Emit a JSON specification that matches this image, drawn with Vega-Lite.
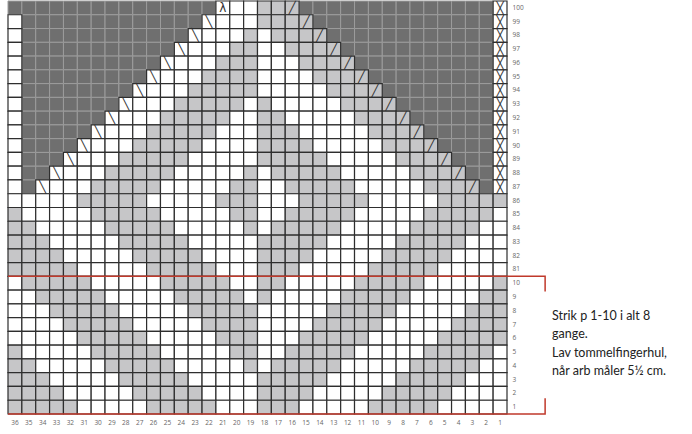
{
"$schema": "https://vega.github.io/schema/vega-lite/v6.json",
"width": 499, "height": 413,
"autosize": "none",
"padding": {"left": 8, "top": 1, "right": 185, "bottom": 20},
"background": "white",
"config": {"view": {"stroke": null}},
"datasets": {
"cells": [
{"c":36,"r":100,"v":"d"},{"c":35,"r":100,"v":"d"},{"c":34,"r":100,"v":"d"},{"c":33,"r":100,"v":"d"},{"c":32,"r":100,"v":"d"},{"c":31,"r":100,"v":"d"},{"c":30,"r":100,"v":"d"},{"c":29,"r":100,"v":"d"},{"c":28,"r":100,"v":"d"},{"c":27,"r":100,"v":"d"},{"c":26,"r":100,"v":"d"},{"c":25,"r":100,"v":"d"},{"c":24,"r":100,"v":"d"},{"c":23,"r":100,"v":"d"},{"c":22,"r":100,"v":"d"},{"c":21,"r":100,"v":"w"},{"c":20,"r":100,"v":"w"},{"c":19,"r":100,"v":"w"},{"c":18,"r":100,"v":"g"},{"c":17,"r":100,"v":"g"},{"c":16,"r":100,"v":"g"},{"c":15,"r":100,"v":"d"},{"c":14,"r":100,"v":"d"},{"c":13,"r":100,"v":"d"},{"c":12,"r":100,"v":"d"},{"c":11,"r":100,"v":"d"},{"c":10,"r":100,"v":"d"},{"c":9,"r":100,"v":"d"},{"c":8,"r":100,"v":"d"},{"c":7,"r":100,"v":"d"},{"c":6,"r":100,"v":"d"},{"c":5,"r":100,"v":"d"},{"c":4,"r":100,"v":"d"},{"c":3,"r":100,"v":"d"},{"c":2,"r":100,"v":"d"},{"c":1,"r":100,"v":"x"},
{"c":36,"r":99,"v":"w"},{"c":35,"r":99,"v":"d"},{"c":34,"r":99,"v":"d"},{"c":33,"r":99,"v":"d"},{"c":32,"r":99,"v":"d"},{"c":31,"r":99,"v":"d"},{"c":30,"r":99,"v":"d"},{"c":29,"r":99,"v":"d"},{"c":28,"r":99,"v":"d"},{"c":27,"r":99,"v":"d"},{"c":26,"r":99,"v":"d"},{"c":25,"r":99,"v":"d"},{"c":24,"r":99,"v":"d"},{"c":23,"r":99,"v":"d"},{"c":22,"r":99,"v":"w"},{"c":21,"r":99,"v":"w"},{"c":20,"r":99,"v":"w"},{"c":19,"r":99,"v":"w"},{"c":18,"r":99,"v":"g"},{"c":17,"r":99,"v":"g"},{"c":16,"r":99,"v":"g"},{"c":15,"r":99,"v":"g"},{"c":14,"r":99,"v":"d"},{"c":13,"r":99,"v":"d"},{"c":12,"r":99,"v":"d"},{"c":11,"r":99,"v":"d"},{"c":10,"r":99,"v":"d"},{"c":9,"r":99,"v":"d"},{"c":8,"r":99,"v":"d"},{"c":7,"r":99,"v":"d"},{"c":6,"r":99,"v":"d"},{"c":5,"r":99,"v":"d"},{"c":4,"r":99,"v":"d"},{"c":3,"r":99,"v":"d"},{"c":2,"r":99,"v":"d"},{"c":1,"r":99,"v":"x"},
{"c":36,"r":98,"v":"w"},{"c":35,"r":98,"v":"d"},{"c":34,"r":98,"v":"d"},{"c":33,"r":98,"v":"d"},{"c":32,"r":98,"v":"d"},{"c":31,"r":98,"v":"d"},{"c":30,"r":98,"v":"d"},{"c":29,"r":98,"v":"d"},{"c":28,"r":98,"v":"d"},{"c":27,"r":98,"v":"d"},{"c":26,"r":98,"v":"d"},{"c":25,"r":98,"v":"d"},{"c":24,"r":98,"v":"d"},{"c":23,"r":98,"v":"w"},{"c":22,"r":98,"v":"w"},{"c":21,"r":98,"v":"w"},{"c":20,"r":98,"v":"w"},{"c":19,"r":98,"v":"g"},{"c":18,"r":98,"v":"w"},{"c":17,"r":98,"v":"g"},{"c":16,"r":98,"v":"g"},{"c":15,"r":98,"v":"g"},{"c":14,"r":98,"v":"g"},{"c":13,"r":98,"v":"d"},{"c":12,"r":98,"v":"d"},{"c":11,"r":98,"v":"d"},{"c":10,"r":98,"v":"d"},{"c":9,"r":98,"v":"d"},{"c":8,"r":98,"v":"d"},{"c":7,"r":98,"v":"d"},{"c":6,"r":98,"v":"d"},{"c":5,"r":98,"v":"d"},{"c":4,"r":98,"v":"d"},{"c":3,"r":98,"v":"d"},{"c":2,"r":98,"v":"d"},{"c":1,"r":98,"v":"x"},
{"c":36,"r":97,"v":"w"},{"c":35,"r":97,"v":"d"},{"c":34,"r":97,"v":"d"},{"c":33,"r":97,"v":"d"},{"c":32,"r":97,"v":"d"},{"c":31,"r":97,"v":"d"},{"c":30,"r":97,"v":"d"},{"c":29,"r":97,"v":"d"},{"c":28,"r":97,"v":"d"},{"c":27,"r":97,"v":"d"},{"c":26,"r":97,"v":"d"},{"c":25,"r":97,"v":"d"},{"c":24,"r":97,"v":"w"},{"c":23,"r":97,"v":"w"},{"c":22,"r":97,"v":"w"},{"c":21,"r":97,"v":"w"},{"c":20,"r":97,"v":"g"},{"c":19,"r":97,"v":"g"},{"c":18,"r":97,"v":"w"},{"c":17,"r":97,"v":"w"},{"c":16,"r":97,"v":"g"},{"c":15,"r":97,"v":"g"},{"c":14,"r":97,"v":"g"},{"c":13,"r":97,"v":"g"},{"c":12,"r":97,"v":"d"},{"c":11,"r":97,"v":"d"},{"c":10,"r":97,"v":"d"},{"c":9,"r":97,"v":"d"},{"c":8,"r":97,"v":"d"},{"c":7,"r":97,"v":"d"},{"c":6,"r":97,"v":"d"},{"c":5,"r":97,"v":"d"},{"c":4,"r":97,"v":"d"},{"c":3,"r":97,"v":"d"},{"c":2,"r":97,"v":"d"},{"c":1,"r":97,"v":"x"},
{"c":36,"r":96,"v":"w"},{"c":35,"r":96,"v":"d"},{"c":34,"r":96,"v":"d"},{"c":33,"r":96,"v":"d"},{"c":32,"r":96,"v":"d"},{"c":31,"r":96,"v":"d"},{"c":30,"r":96,"v":"d"},{"c":29,"r":96,"v":"d"},{"c":28,"r":96,"v":"d"},{"c":27,"r":96,"v":"d"},{"c":26,"r":96,"v":"d"},{"c":25,"r":96,"v":"w"},{"c":24,"r":96,"v":"w"},{"c":23,"r":96,"v":"w"},{"c":22,"r":96,"v":"w"},{"c":21,"r":96,"v":"g"},{"c":20,"r":96,"v":"g"},{"c":19,"r":96,"v":"g"},{"c":18,"r":96,"v":"w"},{"c":17,"r":96,"v":"w"},{"c":16,"r":96,"v":"w"},{"c":15,"r":96,"v":"g"},{"c":14,"r":96,"v":"g"},{"c":13,"r":96,"v":"g"},{"c":12,"r":96,"v":"g"},{"c":11,"r":96,"v":"d"},{"c":10,"r":96,"v":"d"},{"c":9,"r":96,"v":"d"},{"c":8,"r":96,"v":"d"},{"c":7,"r":96,"v":"d"},{"c":6,"r":96,"v":"d"},{"c":5,"r":96,"v":"d"},{"c":4,"r":96,"v":"d"},{"c":3,"r":96,"v":"d"},{"c":2,"r":96,"v":"d"},{"c":1,"r":96,"v":"x"},
{"c":36,"r":95,"v":"w"},{"c":35,"r":95,"v":"d"},{"c":34,"r":95,"v":"d"},{"c":33,"r":95,"v":"d"},{"c":32,"r":95,"v":"d"},{"c":31,"r":95,"v":"d"},{"c":30,"r":95,"v":"d"},{"c":29,"r":95,"v":"d"},{"c":28,"r":95,"v":"d"},{"c":27,"r":95,"v":"d"},{"c":26,"r":95,"v":"w"},{"c":25,"r":95,"v":"w"},{"c":24,"r":95,"v":"w"},{"c":23,"r":95,"v":"w"},{"c":22,"r":95,"v":"g"},{"c":21,"r":95,"v":"g"},{"c":20,"r":95,"v":"g"},{"c":19,"r":95,"v":"g"},{"c":18,"r":95,"v":"w"},{"c":17,"r":95,"v":"w"},{"c":16,"r":95,"v":"w"},{"c":15,"r":95,"v":"w"},{"c":14,"r":95,"v":"g"},{"c":13,"r":95,"v":"g"},{"c":12,"r":95,"v":"g"},{"c":11,"r":95,"v":"g"},{"c":10,"r":95,"v":"d"},{"c":9,"r":95,"v":"d"},{"c":8,"r":95,"v":"d"},{"c":7,"r":95,"v":"d"},{"c":6,"r":95,"v":"d"},{"c":5,"r":95,"v":"d"},{"c":4,"r":95,"v":"d"},{"c":3,"r":95,"v":"d"},{"c":2,"r":95,"v":"d"},{"c":1,"r":95,"v":"x"},
{"c":36,"r":94,"v":"w"},{"c":35,"r":94,"v":"d"},{"c":34,"r":94,"v":"d"},{"c":33,"r":94,"v":"d"},{"c":32,"r":94,"v":"d"},{"c":31,"r":94,"v":"d"},{"c":30,"r":94,"v":"d"},{"c":29,"r":94,"v":"d"},{"c":28,"r":94,"v":"d"},{"c":27,"r":94,"v":"w"},{"c":26,"r":94,"v":"w"},{"c":25,"r":94,"v":"w"},{"c":24,"r":94,"v":"w"},{"c":23,"r":94,"v":"g"},{"c":22,"r":94,"v":"g"},{"c":21,"r":94,"v":"g"},{"c":20,"r":94,"v":"g"},{"c":19,"r":94,"v":"g"},{"c":18,"r":94,"v":"w"},{"c":17,"r":94,"v":"w"},{"c":16,"r":94,"v":"w"},{"c":15,"r":94,"v":"w"},{"c":14,"r":94,"v":"w"},{"c":13,"r":94,"v":"g"},{"c":12,"r":94,"v":"g"},{"c":11,"r":94,"v":"g"},{"c":10,"r":94,"v":"g"},{"c":9,"r":94,"v":"d"},{"c":8,"r":94,"v":"d"},{"c":7,"r":94,"v":"d"},{"c":6,"r":94,"v":"d"},{"c":5,"r":94,"v":"d"},{"c":4,"r":94,"v":"d"},{"c":3,"r":94,"v":"d"},{"c":2,"r":94,"v":"d"},{"c":1,"r":94,"v":"x"},
{"c":36,"r":93,"v":"w"},{"c":35,"r":93,"v":"d"},{"c":34,"r":93,"v":"d"},{"c":33,"r":93,"v":"d"},{"c":32,"r":93,"v":"d"},{"c":31,"r":93,"v":"d"},{"c":30,"r":93,"v":"d"},{"c":29,"r":93,"v":"d"},{"c":28,"r":93,"v":"w"},{"c":27,"r":93,"v":"w"},{"c":26,"r":93,"v":"w"},{"c":25,"r":93,"v":"w"},{"c":24,"r":93,"v":"g"},{"c":23,"r":93,"v":"g"},{"c":22,"r":93,"v":"g"},{"c":21,"r":93,"v":"g"},{"c":20,"r":93,"v":"g"},{"c":19,"r":93,"v":"w"},{"c":18,"r":93,"v":"g"},{"c":17,"r":93,"v":"w"},{"c":16,"r":93,"v":"w"},{"c":15,"r":93,"v":"w"},{"c":14,"r":93,"v":"w"},{"c":13,"r":93,"v":"w"},{"c":12,"r":93,"v":"g"},{"c":11,"r":93,"v":"g"},{"c":10,"r":93,"v":"g"},{"c":9,"r":93,"v":"g"},{"c":8,"r":93,"v":"d"},{"c":7,"r":93,"v":"d"},{"c":6,"r":93,"v":"d"},{"c":5,"r":93,"v":"d"},{"c":4,"r":93,"v":"d"},{"c":3,"r":93,"v":"d"},{"c":2,"r":93,"v":"d"},{"c":1,"r":93,"v":"x"},
{"c":36,"r":92,"v":"w"},{"c":35,"r":92,"v":"d"},{"c":34,"r":92,"v":"d"},{"c":33,"r":92,"v":"d"},{"c":32,"r":92,"v":"d"},{"c":31,"r":92,"v":"d"},{"c":30,"r":92,"v":"d"},{"c":29,"r":92,"v":"w"},{"c":28,"r":92,"v":"w"},{"c":27,"r":92,"v":"w"},{"c":26,"r":92,"v":"w"},{"c":25,"r":92,"v":"g"},{"c":24,"r":92,"v":"g"},{"c":23,"r":92,"v":"g"},{"c":22,"r":92,"v":"g"},{"c":21,"r":92,"v":"g"},{"c":20,"r":92,"v":"w"},{"c":19,"r":92,"v":"w"},{"c":18,"r":92,"v":"g"},{"c":17,"r":92,"v":"g"},{"c":16,"r":92,"v":"w"},{"c":15,"r":92,"v":"w"},{"c":14,"r":92,"v":"w"},{"c":13,"r":92,"v":"w"},{"c":12,"r":92,"v":"w"},{"c":11,"r":92,"v":"g"},{"c":10,"r":92,"v":"g"},{"c":9,"r":92,"v":"g"},{"c":8,"r":92,"v":"g"},{"c":7,"r":92,"v":"d"},{"c":6,"r":92,"v":"d"},{"c":5,"r":92,"v":"d"},{"c":4,"r":92,"v":"d"},{"c":3,"r":92,"v":"d"},{"c":2,"r":92,"v":"d"},{"c":1,"r":92,"v":"x"},
{"c":36,"r":91,"v":"w"},{"c":35,"r":91,"v":"d"},{"c":34,"r":91,"v":"d"},{"c":33,"r":91,"v":"d"},{"c":32,"r":91,"v":"d"},{"c":31,"r":91,"v":"d"},{"c":30,"r":91,"v":"w"},{"c":29,"r":91,"v":"w"},{"c":28,"r":91,"v":"w"},{"c":27,"r":91,"v":"w"},{"c":26,"r":91,"v":"g"},{"c":25,"r":91,"v":"g"},{"c":24,"r":91,"v":"g"},{"c":23,"r":91,"v":"g"},{"c":22,"r":91,"v":"g"},{"c":21,"r":91,"v":"w"},{"c":20,"r":91,"v":"w"},{"c":19,"r":91,"v":"w"},{"c":18,"r":91,"v":"g"},{"c":17,"r":91,"v":"g"},{"c":16,"r":91,"v":"g"},{"c":15,"r":91,"v":"w"},{"c":14,"r":91,"v":"w"},{"c":13,"r":91,"v":"w"},{"c":12,"r":91,"v":"w"},{"c":11,"r":91,"v":"w"},{"c":10,"r":91,"v":"g"},{"c":9,"r":91,"v":"g"},{"c":8,"r":91,"v":"g"},{"c":7,"r":91,"v":"g"},{"c":6,"r":91,"v":"d"},{"c":5,"r":91,"v":"d"},{"c":4,"r":91,"v":"d"},{"c":3,"r":91,"v":"d"},{"c":2,"r":91,"v":"d"},{"c":1,"r":91,"v":"x"},
{"c":36,"r":90,"v":"w"},{"c":35,"r":90,"v":"d"},{"c":34,"r":90,"v":"d"},{"c":33,"r":90,"v":"d"},{"c":32,"r":90,"v":"d"},{"c":31,"r":90,"v":"w"},{"c":30,"r":90,"v":"w"},{"c":29,"r":90,"v":"w"},{"c":28,"r":90,"v":"w"},{"c":27,"r":90,"v":"g"},{"c":26,"r":90,"v":"g"},{"c":25,"r":90,"v":"g"},{"c":24,"r":90,"v":"g"},{"c":23,"r":90,"v":"g"},{"c":22,"r":90,"v":"w"},{"c":21,"r":90,"v":"w"},{"c":20,"r":90,"v":"w"},{"c":19,"r":90,"v":"w"},{"c":18,"r":90,"v":"g"},{"c":17,"r":90,"v":"g"},{"c":16,"r":90,"v":"g"},{"c":15,"r":90,"v":"g"},{"c":14,"r":90,"v":"w"},{"c":13,"r":90,"v":"w"},{"c":12,"r":90,"v":"w"},{"c":11,"r":90,"v":"w"},{"c":10,"r":90,"v":"w"},{"c":9,"r":90,"v":"g"},{"c":8,"r":90,"v":"g"},{"c":7,"r":90,"v":"g"},{"c":6,"r":90,"v":"g"},{"c":5,"r":90,"v":"d"},{"c":4,"r":90,"v":"d"},{"c":3,"r":90,"v":"d"},{"c":2,"r":90,"v":"d"},{"c":1,"r":90,"v":"x"},
{"c":36,"r":89,"v":"w"},{"c":35,"r":89,"v":"d"},{"c":34,"r":89,"v":"d"},{"c":33,"r":89,"v":"d"},{"c":32,"r":89,"v":"w"},{"c":31,"r":89,"v":"w"},{"c":30,"r":89,"v":"w"},{"c":29,"r":89,"v":"w"},{"c":28,"r":89,"v":"g"},{"c":27,"r":89,"v":"g"},{"c":26,"r":89,"v":"g"},{"c":25,"r":89,"v":"g"},{"c":24,"r":89,"v":"g"},{"c":23,"r":89,"v":"w"},{"c":22,"r":89,"v":"w"},{"c":21,"r":89,"v":"w"},{"c":20,"r":89,"v":"w"},{"c":19,"r":89,"v":"w"},{"c":18,"r":89,"v":"g"},{"c":17,"r":89,"v":"g"},{"c":16,"r":89,"v":"g"},{"c":15,"r":89,"v":"g"},{"c":14,"r":89,"v":"g"},{"c":13,"r":89,"v":"w"},{"c":12,"r":89,"v":"w"},{"c":11,"r":89,"v":"w"},{"c":10,"r":89,"v":"w"},{"c":9,"r":89,"v":"w"},{"c":8,"r":89,"v":"g"},{"c":7,"r":89,"v":"g"},{"c":6,"r":89,"v":"g"},{"c":5,"r":89,"v":"g"},{"c":4,"r":89,"v":"d"},{"c":3,"r":89,"v":"d"},{"c":2,"r":89,"v":"d"},{"c":1,"r":89,"v":"x"},
{"c":36,"r":88,"v":"w"},{"c":35,"r":88,"v":"d"},{"c":34,"r":88,"v":"d"},{"c":33,"r":88,"v":"w"},{"c":32,"r":88,"v":"w"},{"c":31,"r":88,"v":"w"},{"c":30,"r":88,"v":"w"},{"c":29,"r":88,"v":"g"},{"c":28,"r":88,"v":"g"},{"c":27,"r":88,"v":"g"},{"c":26,"r":88,"v":"g"},{"c":25,"r":88,"v":"g"},{"c":24,"r":88,"v":"w"},{"c":23,"r":88,"v":"w"},{"c":22,"r":88,"v":"w"},{"c":21,"r":88,"v":"w"},{"c":20,"r":88,"v":"w"},{"c":19,"r":88,"v":"g"},{"c":18,"r":88,"v":"w"},{"c":17,"r":88,"v":"g"},{"c":16,"r":88,"v":"g"},{"c":15,"r":88,"v":"g"},{"c":14,"r":88,"v":"g"},{"c":13,"r":88,"v":"g"},{"c":12,"r":88,"v":"w"},{"c":11,"r":88,"v":"w"},{"c":10,"r":88,"v":"w"},{"c":9,"r":88,"v":"w"},{"c":8,"r":88,"v":"w"},{"c":7,"r":88,"v":"g"},{"c":6,"r":88,"v":"g"},{"c":5,"r":88,"v":"g"},{"c":4,"r":88,"v":"g"},{"c":3,"r":88,"v":"d"},{"c":2,"r":88,"v":"d"},{"c":1,"r":88,"v":"x"},
{"c":36,"r":87,"v":"w"},{"c":35,"r":87,"v":"d"},{"c":34,"r":87,"v":"w"},{"c":33,"r":87,"v":"w"},{"c":32,"r":87,"v":"w"},{"c":31,"r":87,"v":"w"},{"c":30,"r":87,"v":"g"},{"c":29,"r":87,"v":"g"},{"c":28,"r":87,"v":"g"},{"c":27,"r":87,"v":"g"},{"c":26,"r":87,"v":"g"},{"c":25,"r":87,"v":"w"},{"c":24,"r":87,"v":"w"},{"c":23,"r":87,"v":"w"},{"c":22,"r":87,"v":"w"},{"c":21,"r":87,"v":"w"},{"c":20,"r":87,"v":"g"},{"c":19,"r":87,"v":"g"},{"c":18,"r":87,"v":"w"},{"c":17,"r":87,"v":"w"},{"c":16,"r":87,"v":"g"},{"c":15,"r":87,"v":"g"},{"c":14,"r":87,"v":"g"},{"c":13,"r":87,"v":"g"},{"c":12,"r":87,"v":"g"},{"c":11,"r":87,"v":"w"},{"c":10,"r":87,"v":"w"},{"c":9,"r":87,"v":"w"},{"c":8,"r":87,"v":"w"},{"c":7,"r":87,"v":"w"},{"c":6,"r":87,"v":"g"},{"c":5,"r":87,"v":"g"},{"c":4,"r":87,"v":"g"},{"c":3,"r":87,"v":"g"},{"c":2,"r":87,"v":"d"},{"c":1,"r":87,"v":"x"},
{"c":36,"r":86,"v":"w"},{"c":35,"r":86,"v":"w"},{"c":34,"r":86,"v":"w"},{"c":33,"r":86,"v":"w"},{"c":32,"r":86,"v":"w"},{"c":31,"r":86,"v":"g"},{"c":30,"r":86,"v":"g"},{"c":29,"r":86,"v":"g"},{"c":28,"r":86,"v":"g"},{"c":27,"r":86,"v":"g"},{"c":26,"r":86,"v":"w"},{"c":25,"r":86,"v":"w"},{"c":24,"r":86,"v":"w"},{"c":23,"r":86,"v":"w"},{"c":22,"r":86,"v":"w"},{"c":21,"r":86,"v":"g"},{"c":20,"r":86,"v":"g"},{"c":19,"r":86,"v":"g"},{"c":18,"r":86,"v":"w"},{"c":17,"r":86,"v":"w"},{"c":16,"r":86,"v":"w"},{"c":15,"r":86,"v":"g"},{"c":14,"r":86,"v":"g"},{"c":13,"r":86,"v":"g"},{"c":12,"r":86,"v":"g"},{"c":11,"r":86,"v":"g"},{"c":10,"r":86,"v":"w"},{"c":9,"r":86,"v":"w"},{"c":8,"r":86,"v":"w"},{"c":7,"r":86,"v":"w"},{"c":6,"r":86,"v":"w"},{"c":5,"r":86,"v":"g"},{"c":4,"r":86,"v":"g"},{"c":3,"r":86,"v":"g"},{"c":2,"r":86,"v":"g"},{"c":1,"r":86,"v":"g"},
{"c":36,"r":85,"v":"g"},{"c":35,"r":85,"v":"w"},{"c":34,"r":85,"v":"w"},{"c":33,"r":85,"v":"w"},{"c":32,"r":85,"v":"w"},{"c":31,"r":85,"v":"w"},{"c":30,"r":85,"v":"g"},{"c":29,"r":85,"v":"g"},{"c":28,"r":85,"v":"g"},{"c":27,"r":85,"v":"g"},{"c":26,"r":85,"v":"g"},{"c":25,"r":85,"v":"w"},{"c":24,"r":85,"v":"w"},{"c":23,"r":85,"v":"w"},{"c":22,"r":85,"v":"w"},{"c":21,"r":85,"v":"w"},{"c":20,"r":85,"v":"g"},{"c":19,"r":85,"v":"g"},{"c":18,"r":85,"v":"w"},{"c":17,"r":85,"v":"w"},{"c":16,"r":85,"v":"g"},{"c":15,"r":85,"v":"g"},{"c":14,"r":85,"v":"g"},{"c":13,"r":85,"v":"g"},{"c":12,"r":85,"v":"g"},{"c":11,"r":85,"v":"w"},{"c":10,"r":85,"v":"w"},{"c":9,"r":85,"v":"w"},{"c":8,"r":85,"v":"w"},{"c":7,"r":85,"v":"w"},{"c":6,"r":85,"v":"g"},{"c":5,"r":85,"v":"g"},{"c":4,"r":85,"v":"g"},{"c":3,"r":85,"v":"g"},{"c":2,"r":85,"v":"g"},{"c":1,"r":85,"v":"w"},
{"c":36,"r":84,"v":"g"},{"c":35,"r":84,"v":"g"},{"c":34,"r":84,"v":"w"},{"c":33,"r":84,"v":"w"},{"c":32,"r":84,"v":"w"},{"c":31,"r":84,"v":"w"},{"c":30,"r":84,"v":"w"},{"c":29,"r":84,"v":"g"},{"c":28,"r":84,"v":"g"},{"c":27,"r":84,"v":"g"},{"c":26,"r":84,"v":"g"},{"c":25,"r":84,"v":"g"},{"c":24,"r":84,"v":"w"},{"c":23,"r":84,"v":"w"},{"c":22,"r":84,"v":"w"},{"c":21,"r":84,"v":"w"},{"c":20,"r":84,"v":"w"},{"c":19,"r":84,"v":"g"},{"c":18,"r":84,"v":"w"},{"c":17,"r":84,"v":"g"},{"c":16,"r":84,"v":"g"},{"c":15,"r":84,"v":"g"},{"c":14,"r":84,"v":"g"},{"c":13,"r":84,"v":"g"},{"c":12,"r":84,"v":"w"},{"c":11,"r":84,"v":"w"},{"c":10,"r":84,"v":"w"},{"c":9,"r":84,"v":"w"},{"c":8,"r":84,"v":"w"},{"c":7,"r":84,"v":"g"},{"c":6,"r":84,"v":"g"},{"c":5,"r":84,"v":"g"},{"c":4,"r":84,"v":"g"},{"c":3,"r":84,"v":"g"},{"c":2,"r":84,"v":"w"},{"c":1,"r":84,"v":"w"},
{"c":36,"r":83,"v":"g"},{"c":35,"r":83,"v":"g"},{"c":34,"r":83,"v":"g"},{"c":33,"r":83,"v":"w"},{"c":32,"r":83,"v":"w"},{"c":31,"r":83,"v":"w"},{"c":30,"r":83,"v":"w"},{"c":29,"r":83,"v":"w"},{"c":28,"r":83,"v":"g"},{"c":27,"r":83,"v":"g"},{"c":26,"r":83,"v":"g"},{"c":25,"r":83,"v":"g"},{"c":24,"r":83,"v":"g"},{"c":23,"r":83,"v":"w"},{"c":22,"r":83,"v":"w"},{"c":21,"r":83,"v":"w"},{"c":20,"r":83,"v":"w"},{"c":19,"r":83,"v":"w"},{"c":18,"r":83,"v":"g"},{"c":17,"r":83,"v":"g"},{"c":16,"r":83,"v":"g"},{"c":15,"r":83,"v":"g"},{"c":14,"r":83,"v":"g"},{"c":13,"r":83,"v":"w"},{"c":12,"r":83,"v":"w"},{"c":11,"r":83,"v":"w"},{"c":10,"r":83,"v":"w"},{"c":9,"r":83,"v":"w"},{"c":8,"r":83,"v":"g"},{"c":7,"r":83,"v":"g"},{"c":6,"r":83,"v":"g"},{"c":5,"r":83,"v":"g"},{"c":4,"r":83,"v":"g"},{"c":3,"r":83,"v":"w"},{"c":2,"r":83,"v":"w"},{"c":1,"r":83,"v":"w"},
{"c":36,"r":82,"v":"g"},{"c":35,"r":82,"v":"g"},{"c":34,"r":82,"v":"g"},{"c":33,"r":82,"v":"g"},{"c":32,"r":82,"v":"w"},{"c":31,"r":82,"v":"w"},{"c":30,"r":82,"v":"w"},{"c":29,"r":82,"v":"w"},{"c":28,"r":82,"v":"w"},{"c":27,"r":82,"v":"g"},{"c":26,"r":82,"v":"g"},{"c":25,"r":82,"v":"g"},{"c":24,"r":82,"v":"g"},{"c":23,"r":82,"v":"g"},{"c":22,"r":82,"v":"w"},{"c":21,"r":82,"v":"w"},{"c":20,"r":82,"v":"w"},{"c":19,"r":82,"v":"w"},{"c":18,"r":82,"v":"g"},{"c":17,"r":82,"v":"g"},{"c":16,"r":82,"v":"g"},{"c":15,"r":82,"v":"g"},{"c":14,"r":82,"v":"w"},{"c":13,"r":82,"v":"w"},{"c":12,"r":82,"v":"w"},{"c":11,"r":82,"v":"w"},{"c":10,"r":82,"v":"w"},{"c":9,"r":82,"v":"g"},{"c":8,"r":82,"v":"g"},{"c":7,"r":82,"v":"g"},{"c":6,"r":82,"v":"g"},{"c":5,"r":82,"v":"g"},{"c":4,"r":82,"v":"w"},{"c":3,"r":82,"v":"w"},{"c":2,"r":82,"v":"w"},{"c":1,"r":82,"v":"w"},
{"c":36,"r":81,"v":"g"},{"c":35,"r":81,"v":"g"},{"c":34,"r":81,"v":"g"},{"c":33,"r":81,"v":"g"},{"c":32,"r":81,"v":"g"},{"c":31,"r":81,"v":"w"},{"c":30,"r":81,"v":"w"},{"c":29,"r":81,"v":"w"},{"c":28,"r":81,"v":"w"},{"c":27,"r":81,"v":"w"},{"c":26,"r":81,"v":"g"},{"c":25,"r":81,"v":"g"},{"c":24,"r":81,"v":"g"},{"c":23,"r":81,"v":"g"},{"c":22,"r":81,"v":"g"},{"c":21,"r":81,"v":"w"},{"c":20,"r":81,"v":"w"},{"c":19,"r":81,"v":"w"},{"c":18,"r":81,"v":"g"},{"c":17,"r":81,"v":"g"},{"c":16,"r":81,"v":"g"},{"c":15,"r":81,"v":"w"},{"c":14,"r":81,"v":"w"},{"c":13,"r":81,"v":"w"},{"c":12,"r":81,"v":"w"},{"c":11,"r":81,"v":"w"},{"c":10,"r":81,"v":"g"},{"c":9,"r":81,"v":"g"},{"c":8,"r":81,"v":"g"},{"c":7,"r":81,"v":"g"},{"c":6,"r":81,"v":"g"},{"c":5,"r":81,"v":"w"},{"c":4,"r":81,"v":"w"},{"c":3,"r":81,"v":"w"},{"c":2,"r":81,"v":"w"},{"c":1,"r":81,"v":"w"},
{"c":36,"r":10,"v":"w"},{"c":35,"r":10,"v":"g"},{"c":34,"r":10,"v":"g"},{"c":33,"r":10,"v":"g"},{"c":32,"r":10,"v":"g"},{"c":31,"r":10,"v":"g"},{"c":30,"r":10,"v":"w"},{"c":29,"r":10,"v":"w"},{"c":28,"r":10,"v":"w"},{"c":27,"r":10,"v":"w"},{"c":26,"r":10,"v":"w"},{"c":25,"r":10,"v":"g"},{"c":24,"r":10,"v":"g"},{"c":23,"r":10,"v":"g"},{"c":22,"r":10,"v":"g"},{"c":21,"r":10,"v":"g"},{"c":20,"r":10,"v":"w"},{"c":19,"r":10,"v":"w"},{"c":18,"r":10,"v":"g"},{"c":17,"r":10,"v":"g"},{"c":16,"r":10,"v":"w"},{"c":15,"r":10,"v":"w"},{"c":14,"r":10,"v":"w"},{"c":13,"r":10,"v":"w"},{"c":12,"r":10,"v":"w"},{"c":11,"r":10,"v":"g"},{"c":10,"r":10,"v":"g"},{"c":9,"r":10,"v":"g"},{"c":8,"r":10,"v":"g"},{"c":7,"r":10,"v":"g"},{"c":6,"r":10,"v":"w"},{"c":5,"r":10,"v":"w"},{"c":4,"r":10,"v":"w"},{"c":3,"r":10,"v":"w"},{"c":2,"r":10,"v":"w"},{"c":1,"r":10,"v":"g"},
{"c":36,"r":9,"v":"w"},{"c":35,"r":9,"v":"w"},{"c":34,"r":9,"v":"g"},{"c":33,"r":9,"v":"g"},{"c":32,"r":9,"v":"g"},{"c":31,"r":9,"v":"g"},{"c":30,"r":9,"v":"g"},{"c":29,"r":9,"v":"w"},{"c":28,"r":9,"v":"w"},{"c":27,"r":9,"v":"w"},{"c":26,"r":9,"v":"w"},{"c":25,"r":9,"v":"w"},{"c":24,"r":9,"v":"g"},{"c":23,"r":9,"v":"g"},{"c":22,"r":9,"v":"g"},{"c":21,"r":9,"v":"g"},{"c":20,"r":9,"v":"g"},{"c":19,"r":9,"v":"w"},{"c":18,"r":9,"v":"g"},{"c":17,"r":9,"v":"w"},{"c":16,"r":9,"v":"w"},{"c":15,"r":9,"v":"w"},{"c":14,"r":9,"v":"w"},{"c":13,"r":9,"v":"w"},{"c":12,"r":9,"v":"g"},{"c":11,"r":9,"v":"g"},{"c":10,"r":9,"v":"g"},{"c":9,"r":9,"v":"g"},{"c":8,"r":9,"v":"g"},{"c":7,"r":9,"v":"w"},{"c":6,"r":9,"v":"w"},{"c":5,"r":9,"v":"w"},{"c":4,"r":9,"v":"w"},{"c":3,"r":9,"v":"w"},{"c":2,"r":9,"v":"g"},{"c":1,"r":9,"v":"g"},
{"c":36,"r":8,"v":"w"},{"c":35,"r":8,"v":"w"},{"c":34,"r":8,"v":"w"},{"c":33,"r":8,"v":"g"},{"c":32,"r":8,"v":"g"},{"c":31,"r":8,"v":"g"},{"c":30,"r":8,"v":"g"},{"c":29,"r":8,"v":"g"},{"c":28,"r":8,"v":"w"},{"c":27,"r":8,"v":"w"},{"c":26,"r":8,"v":"w"},{"c":25,"r":8,"v":"w"},{"c":24,"r":8,"v":"w"},{"c":23,"r":8,"v":"g"},{"c":22,"r":8,"v":"g"},{"c":21,"r":8,"v":"g"},{"c":20,"r":8,"v":"g"},{"c":19,"r":8,"v":"g"},{"c":18,"r":8,"v":"w"},{"c":17,"r":8,"v":"w"},{"c":16,"r":8,"v":"w"},{"c":15,"r":8,"v":"w"},{"c":14,"r":8,"v":"w"},{"c":13,"r":8,"v":"g"},{"c":12,"r":8,"v":"g"},{"c":11,"r":8,"v":"g"},{"c":10,"r":8,"v":"g"},{"c":9,"r":8,"v":"g"},{"c":8,"r":8,"v":"w"},{"c":7,"r":8,"v":"w"},{"c":6,"r":8,"v":"w"},{"c":5,"r":8,"v":"w"},{"c":4,"r":8,"v":"w"},{"c":3,"r":8,"v":"g"},{"c":2,"r":8,"v":"g"},{"c":1,"r":8,"v":"g"},
{"c":36,"r":7,"v":"w"},{"c":35,"r":7,"v":"w"},{"c":34,"r":7,"v":"w"},{"c":33,"r":7,"v":"w"},{"c":32,"r":7,"v":"g"},{"c":31,"r":7,"v":"g"},{"c":30,"r":7,"v":"g"},{"c":29,"r":7,"v":"g"},{"c":28,"r":7,"v":"g"},{"c":27,"r":7,"v":"w"},{"c":26,"r":7,"v":"w"},{"c":25,"r":7,"v":"w"},{"c":24,"r":7,"v":"w"},{"c":23,"r":7,"v":"w"},{"c":22,"r":7,"v":"g"},{"c":21,"r":7,"v":"g"},{"c":20,"r":7,"v":"g"},{"c":19,"r":7,"v":"g"},{"c":18,"r":7,"v":"w"},{"c":17,"r":7,"v":"w"},{"c":16,"r":7,"v":"w"},{"c":15,"r":7,"v":"w"},{"c":14,"r":7,"v":"g"},{"c":13,"r":7,"v":"g"},{"c":12,"r":7,"v":"g"},{"c":11,"r":7,"v":"g"},{"c":10,"r":7,"v":"g"},{"c":9,"r":7,"v":"w"},{"c":8,"r":7,"v":"w"},{"c":7,"r":7,"v":"w"},{"c":6,"r":7,"v":"w"},{"c":5,"r":7,"v":"w"},{"c":4,"r":7,"v":"g"},{"c":3,"r":7,"v":"g"},{"c":2,"r":7,"v":"g"},{"c":1,"r":7,"v":"g"},
{"c":36,"r":6,"v":"w"},{"c":35,"r":6,"v":"w"},{"c":34,"r":6,"v":"w"},{"c":33,"r":6,"v":"w"},{"c":32,"r":6,"v":"w"},{"c":31,"r":6,"v":"g"},{"c":30,"r":6,"v":"g"},{"c":29,"r":6,"v":"g"},{"c":28,"r":6,"v":"g"},{"c":27,"r":6,"v":"g"},{"c":26,"r":6,"v":"w"},{"c":25,"r":6,"v":"w"},{"c":24,"r":6,"v":"w"},{"c":23,"r":6,"v":"w"},{"c":22,"r":6,"v":"w"},{"c":21,"r":6,"v":"g"},{"c":20,"r":6,"v":"g"},{"c":19,"r":6,"v":"g"},{"c":18,"r":6,"v":"w"},{"c":17,"r":6,"v":"w"},{"c":16,"r":6,"v":"w"},{"c":15,"r":6,"v":"g"},{"c":14,"r":6,"v":"g"},{"c":13,"r":6,"v":"g"},{"c":12,"r":6,"v":"g"},{"c":11,"r":6,"v":"g"},{"c":10,"r":6,"v":"w"},{"c":9,"r":6,"v":"w"},{"c":8,"r":6,"v":"w"},{"c":7,"r":6,"v":"w"},{"c":6,"r":6,"v":"w"},{"c":5,"r":6,"v":"g"},{"c":4,"r":6,"v":"g"},{"c":3,"r":6,"v":"g"},{"c":2,"r":6,"v":"g"},{"c":1,"r":6,"v":"g"},
{"c":36,"r":5,"v":"g"},{"c":35,"r":5,"v":"w"},{"c":34,"r":5,"v":"w"},{"c":33,"r":5,"v":"w"},{"c":32,"r":5,"v":"w"},{"c":31,"r":5,"v":"w"},{"c":30,"r":5,"v":"g"},{"c":29,"r":5,"v":"g"},{"c":28,"r":5,"v":"g"},{"c":27,"r":5,"v":"g"},{"c":26,"r":5,"v":"g"},{"c":25,"r":5,"v":"w"},{"c":24,"r":5,"v":"w"},{"c":23,"r":5,"v":"w"},{"c":22,"r":5,"v":"w"},{"c":21,"r":5,"v":"w"},{"c":20,"r":5,"v":"g"},{"c":19,"r":5,"v":"g"},{"c":18,"r":5,"v":"w"},{"c":17,"r":5,"v":"w"},{"c":16,"r":5,"v":"g"},{"c":15,"r":5,"v":"g"},{"c":14,"r":5,"v":"g"},{"c":13,"r":5,"v":"g"},{"c":12,"r":5,"v":"g"},{"c":11,"r":5,"v":"w"},{"c":10,"r":5,"v":"w"},{"c":9,"r":5,"v":"w"},{"c":8,"r":5,"v":"w"},{"c":7,"r":5,"v":"w"},{"c":6,"r":5,"v":"g"},{"c":5,"r":5,"v":"g"},{"c":4,"r":5,"v":"g"},{"c":3,"r":5,"v":"g"},{"c":2,"r":5,"v":"g"},{"c":1,"r":5,"v":"w"},
{"c":36,"r":4,"v":"g"},{"c":35,"r":4,"v":"g"},{"c":34,"r":4,"v":"w"},{"c":33,"r":4,"v":"w"},{"c":32,"r":4,"v":"w"},{"c":31,"r":4,"v":"w"},{"c":30,"r":4,"v":"w"},{"c":29,"r":4,"v":"g"},{"c":28,"r":4,"v":"g"},{"c":27,"r":4,"v":"g"},{"c":26,"r":4,"v":"g"},{"c":25,"r":4,"v":"g"},{"c":24,"r":4,"v":"w"},{"c":23,"r":4,"v":"w"},{"c":22,"r":4,"v":"w"},{"c":21,"r":4,"v":"w"},{"c":20,"r":4,"v":"w"},{"c":19,"r":4,"v":"g"},{"c":18,"r":4,"v":"w"},{"c":17,"r":4,"v":"g"},{"c":16,"r":4,"v":"g"},{"c":15,"r":4,"v":"g"},{"c":14,"r":4,"v":"g"},{"c":13,"r":4,"v":"g"},{"c":12,"r":4,"v":"w"},{"c":11,"r":4,"v":"w"},{"c":10,"r":4,"v":"w"},{"c":9,"r":4,"v":"w"},{"c":8,"r":4,"v":"w"},{"c":7,"r":4,"v":"g"},{"c":6,"r":4,"v":"g"},{"c":5,"r":4,"v":"g"},{"c":4,"r":4,"v":"g"},{"c":3,"r":4,"v":"g"},{"c":2,"r":4,"v":"w"},{"c":1,"r":4,"v":"w"},
{"c":36,"r":3,"v":"g"},{"c":35,"r":3,"v":"g"},{"c":34,"r":3,"v":"g"},{"c":33,"r":3,"v":"w"},{"c":32,"r":3,"v":"w"},{"c":31,"r":3,"v":"w"},{"c":30,"r":3,"v":"w"},{"c":29,"r":3,"v":"w"},{"c":28,"r":3,"v":"g"},{"c":27,"r":3,"v":"g"},{"c":26,"r":3,"v":"g"},{"c":25,"r":3,"v":"g"},{"c":24,"r":3,"v":"g"},{"c":23,"r":3,"v":"w"},{"c":22,"r":3,"v":"w"},{"c":21,"r":3,"v":"w"},{"c":20,"r":3,"v":"w"},{"c":19,"r":3,"v":"w"},{"c":18,"r":3,"v":"g"},{"c":17,"r":3,"v":"g"},{"c":16,"r":3,"v":"g"},{"c":15,"r":3,"v":"g"},{"c":14,"r":3,"v":"g"},{"c":13,"r":3,"v":"w"},{"c":12,"r":3,"v":"w"},{"c":11,"r":3,"v":"w"},{"c":10,"r":3,"v":"w"},{"c":9,"r":3,"v":"w"},{"c":8,"r":3,"v":"g"},{"c":7,"r":3,"v":"g"},{"c":6,"r":3,"v":"g"},{"c":5,"r":3,"v":"g"},{"c":4,"r":3,"v":"g"},{"c":3,"r":3,"v":"w"},{"c":2,"r":3,"v":"w"},{"c":1,"r":3,"v":"w"},
{"c":36,"r":2,"v":"g"},{"c":35,"r":2,"v":"g"},{"c":34,"r":2,"v":"g"},{"c":33,"r":2,"v":"g"},{"c":32,"r":2,"v":"w"},{"c":31,"r":2,"v":"w"},{"c":30,"r":2,"v":"w"},{"c":29,"r":2,"v":"w"},{"c":28,"r":2,"v":"w"},{"c":27,"r":2,"v":"g"},{"c":26,"r":2,"v":"g"},{"c":25,"r":2,"v":"g"},{"c":24,"r":2,"v":"g"},{"c":23,"r":2,"v":"g"},{"c":22,"r":2,"v":"w"},{"c":21,"r":2,"v":"w"},{"c":20,"r":2,"v":"w"},{"c":19,"r":2,"v":"w"},{"c":18,"r":2,"v":"g"},{"c":17,"r":2,"v":"g"},{"c":16,"r":2,"v":"g"},{"c":15,"r":2,"v":"g"},{"c":14,"r":2,"v":"w"},{"c":13,"r":2,"v":"w"},{"c":12,"r":2,"v":"w"},{"c":11,"r":2,"v":"w"},{"c":10,"r":2,"v":"w"},{"c":9,"r":2,"v":"g"},{"c":8,"r":2,"v":"g"},{"c":7,"r":2,"v":"g"},{"c":6,"r":2,"v":"g"},{"c":5,"r":2,"v":"g"},{"c":4,"r":2,"v":"w"},{"c":3,"r":2,"v":"w"},{"c":2,"r":2,"v":"w"},{"c":1,"r":2,"v":"w"},
{"c":36,"r":1,"v":"g"},{"c":35,"r":1,"v":"g"},{"c":34,"r":1,"v":"g"},{"c":33,"r":1,"v":"g"},{"c":32,"r":1,"v":"g"},{"c":31,"r":1,"v":"w"},{"c":30,"r":1,"v":"w"},{"c":29,"r":1,"v":"w"},{"c":28,"r":1,"v":"w"},{"c":27,"r":1,"v":"w"},{"c":26,"r":1,"v":"g"},{"c":25,"r":1,"v":"g"},{"c":24,"r":1,"v":"g"},{"c":23,"r":1,"v":"g"},{"c":22,"r":1,"v":"g"},{"c":21,"r":1,"v":"w"},{"c":20,"r":1,"v":"w"},{"c":19,"r":1,"v":"w"},{"c":18,"r":1,"v":"g"},{"c":17,"r":1,"v":"g"},{"c":16,"r":1,"v":"g"},{"c":15,"r":1,"v":"w"},{"c":14,"r":1,"v":"w"},{"c":13,"r":1,"v":"w"},{"c":12,"r":1,"v":"w"},{"c":11,"r":1,"v":"w"},{"c":10,"r":1,"v":"g"},{"c":9,"r":1,"v":"g"},{"c":8,"r":1,"v":"g"},{"c":7,"r":1,"v":"g"},{"c":6,"r":1,"v":"g"},{"c":5,"r":1,"v":"w"},{"c":4,"r":1,"v":"w"},{"c":3,"r":1,"v":"w"},{"c":2,"r":1,"v":"w"},{"c":1,"r":1,"v":"w"}
],
"sym": [
{"c":21,"r":100,"s":"λ"},{"c":22,"r":99,"s":"╲"},{"c":23,"r":98,"s":"╲"},{"c":24,"r":97,"s":"╲"},{"c":25,"r":96,"s":"╲"},{"c":26,"r":95,"s":"╲"},{"c":27,"r":94,"s":"╲"},{"c":28,"r":93,"s":"╲"},{"c":29,"r":92,"s":"╲"},{"c":30,"r":91,"s":"╲"},{"c":31,"r":90,"s":"╲"},{"c":32,"r":89,"s":"╲"},{"c":33,"r":88,"s":"╲"},{"c":34,"r":87,"s":"╲"},
{"c":16,"r":100,"s":"╱"},{"c":15,"r":99,"s":"╱"},{"c":14,"r":98,"s":"╱"},{"c":13,"r":97,"s":"╱"},{"c":12,"r":96,"s":"╱"},{"c":11,"r":95,"s":"╱"},{"c":10,"r":94,"s":"╱"},{"c":9,"r":93,"s":"╱"},{"c":8,"r":92,"s":"╱"},{"c":7,"r":91,"s":"╱"},{"c":6,"r":90,"s":"╱"},{"c":5,"r":89,"s":"╱"},{"c":4,"r":88,"s":"╱"},{"c":3,"r":87,"s":"╱"},
{"c":1,"r":100,"s":"╳"},{"c":1,"r":99,"s":"╳"},{"c":1,"r":98,"s":"╳"},{"c":1,"r":97,"s":"╳"},{"c":1,"r":96,"s":"╳"},{"c":1,"r":95,"s":"╳"},{"c":1,"r":94,"s":"╳"},{"c":1,"r":93,"s":"╳"},{"c":1,"r":92,"s":"╳"},{"c":1,"r":91,"s":"╳"},{"c":1,"r":90,"s":"╳"},{"c":1,"r":89,"s":"╳"},{"c":1,"r":88,"s":"╳"},{"c":1,"r":87,"s":"╳"}
],
"bracket": [
{"p":"a","o":1,"bx":0,"by":10},{"p":"a","o":2,"bx":38.75,"by":10},{"p":"a","o":3,"bx":38.75,"by":8.9},
{"p":"b","o":1,"bx":0,"by":0},{"p":"b","o":2,"bx":38.75,"by":0},{"p":"b","o":3,"bx":38.75,"by":1.15}
],
"note": [
{"t":"Strik p 1-10 i alt 8","bx":39.25,"by":7.15},
{"t":"gange.","bx":39.25,"by":5.8},
{"t":"Lav tommelfingerhul,","bx":39.25,"by":4.45},
{"t":"når arb måler 5½ cm.","bx":39.25,"by":3.1}
]
},
"layer": [
{
"layer": [
{"data": {"name": "cells"}, "transform": [{"filter": "datum.v == 'd'"}],
 "mark": {"type": "rect", "strokeWidth": 1},
 "encoding": {
  "x": {"field": "c", "type": "ordinal", "scale": {"domain": [36,35,34,33,32,31,30,29,28,27,26,25,24,23,22,21,20,19,18,17,16,15,14,13,12,11,10,9,8,7,6,5,4,3,2,1], "paddingInner": 0, "paddingOuter": 0},
        "axis": {"orient": "bottom", "title": null, "domain": false, "ticks": false, "labelAngle": 0, "labelFont": "Open Sans", "labelFontSize": 6.5, "labelColor": "#666", "labelPadding": 5}},
  "y": {"field": "r", "type": "ordinal", "scale": {"domain": [100,99,98,97,96,95,94,93,92,91,90,89,88,87,86,85,84,83,82,81,10,9,8,7,6,5,4,3,2,1], "paddingInner": 0, "paddingOuter": 0},
        "axis": {"orient": "right", "title": null, "domain": false, "ticks": false, "labelFont": "Open Sans", "labelFontSize": 6.5, "labelColor": "#666", "labelPadding": 5}},
  "fill": {"field": "v", "type": "nominal", "scale": {"domain": ["w","g","d","x"], "range": ["#ffffff","#c6c6c8","#6f6f6f","#ffffff"]}, "legend": null},
  "stroke": {"field": "v", "type": "nominal", "scale": {"domain": ["w","g","d","x"], "range": ["#2e2e2e","#2e2e2e","#9c9c9c","#2e2e2e"]}, "legend": null}
 }},
{"data": {"name": "cells"}, "transform": [{"filter": "datum.v != 'd'"}],
 "mark": {"type": "rect", "strokeWidth": 1.2},
 "encoding": {
  "x": {"field": "c", "type": "ordinal"},
  "y": {"field": "r", "type": "ordinal"},
  "fill": {"field": "v", "type": "nominal", "legend": null},
  "stroke": {"field": "v", "type": "nominal", "legend": null}
 }},
{"data": {"name": "sym"},
 "mark": {"type": "text", "font": "DejaVu Sans", "fontSize": 12, "color": "#333", "baseline": "middle"},
 "encoding": {
  "x": {"field": "c", "type": "ordinal"},
  "y": {"field": "r", "type": "ordinal"},
  "text": {"field": "s"}
 }}
]
},
{
"layer": [
{"data": {"name": "bracket"},
 "mark": {"type": "line", "color": "#c0392b", "strokeWidth": 1.5, "clip": false},
 "encoding": {
  "x": {"field": "bx", "type": "quantitative", "scale": {"domain": [0, 36], "nice": false, "zero": false}, "axis": null},
  "y": {"field": "by", "type": "quantitative", "scale": {"domain": [0, 30], "nice": false, "zero": false}, "axis": null},
  "detail": {"field": "p"},
  "order": {"field": "o"}
 }},
{"data": {"name": "note"},
 "mark": {"type": "text", "align": "left", "baseline": "middle", "font": "Lato", "fontSize": 12.5, "color": "#222", "clip": false},
 "encoding": {
  "x": {"field": "bx", "type": "quantitative"},
  "y": {"field": "by", "type": "quantitative"},
  "text": {"field": "t"}
 }}
]
}
],
"resolve": {"scale": {"x": "independent", "y": "independent"}}
}
